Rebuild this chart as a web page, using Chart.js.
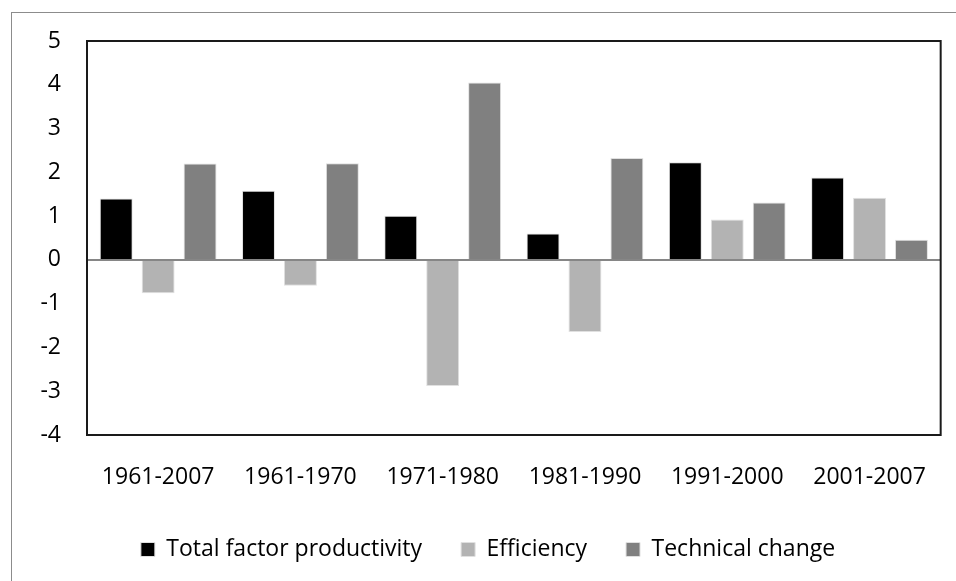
<!DOCTYPE html>
<html>
<head>
<meta charset="utf-8">
<script src="https://cdn.jsdelivr.net/npm/chart.js@4"></script>
<style>
  html, body { margin: 0; padding: 0; background: #fff; overflow: hidden; width: 956px; height: 581px; }
  #frame { position: absolute; left: 11px; top: 12px; width: 980px; height: 620px; border: 1px solid #8c8c8c; box-sizing: border-box; }
  #wrap { position: absolute; left: 0; top: 0; width: 956px; height: 581px; }
</style>
</head>
<body>
<div id="frame"></div>
<div id="wrap"><canvas id="chart"></canvas></div>
<script>
// chart values
const periods = ['1961-2007', '1961-1970', '1971-1980', '1981-1990', '1991-2000', '2001-2007'];
const tfp = [1.40, 1.58, 1.01, 0.60, 2.23, 1.88];
const efficiency = [-0.76, -0.59, -2.88, -1.65, 0.92, 1.42];
const technical = [2.20, 2.21, 4.05, 2.33, 1.31, 0.46];
const yTicks = [5, 4, 3, 2, 1, 0, -1, -2, -3, -4];

const FONT = "'Open Sans', sans-serif";

// black frame round the plot area, drawn before the axes
const plotFrame = {
    id: 'plotFrame',
    beforeDatasetsDraw(chart) {
        const a = chart.chartArea;
        const ctx = chart.ctx;
        ctx.save();
        ctx.strokeStyle = '#1a1a1a';
        ctx.lineWidth = 2;
        ctx.strokeRect(a.left, a.top, a.right - a.left, a.bottom - a.top);
        ctx.restore();
    }
};

function bars(label, data, color) {
    return {
        label: label,
        data: data,
        backgroundColor: color,
        borderColor: '#e0e0e0',
        borderWidth: 1,
        barPercentage: 0.786,
        categoryPercentage: 0.884
    };
}

new Chart(document.getElementById('chart'), {
    type: 'bar',
    data: {
        labels: periods,
        datasets: [
            bars('Total factor productivity', tfp, '#000000'),
            bars('Efficiency', efficiency, '#b3b3b3'),
            bars('Technical change', technical, '#808080')
        ]
    },
    options: {
        responsive: true,
        maintainAspectRatio: false,
        animation: false,
        layout: { padding: { left: 34, right: 14, top: 41, bottom: 10 } },
        scales: {
            x: {
                grid: { display: false, drawTicks: false },
                border: { display: false },
                ticks: { color: '#000', font: { family: FONT, size: 23 }, padding: 29, maxRotation: 0 },
                afterFit(scale) { scale.height = 64; }
            },
            y: {
                min: -4,
                max: 5,
                afterBuildTicks(scale) { scale.ticks = yTicks.map(v => ({ value: v })); },
                grid: {
                    drawTicks: false,
                    lineWidth: 2,
                    color: ctx => ctx.tick && ctx.tick.value === 0 ? '#868686' : 'rgba(0,0,0,0)'
                },
                border: { color: '#868686', width: 2 },
                ticks: { color: '#000', font: { family: FONT, size: 23 }, padding: 26 },
                afterFit(scale) { scale.width = 53; }
            }
        },
        plugins: {
            tooltip: { enabled: false },
            legend: {
                position: 'bottom',
                labels: {
                    color: '#000',
                    font: { family: FONT, size: 23 },
                    boxWidth: 14,
                    boxHeight: 14,
                    padding: 39
                }
            }
        }
    },
    plugins: [plotFrame]
});
</script>
</body>
</html>
